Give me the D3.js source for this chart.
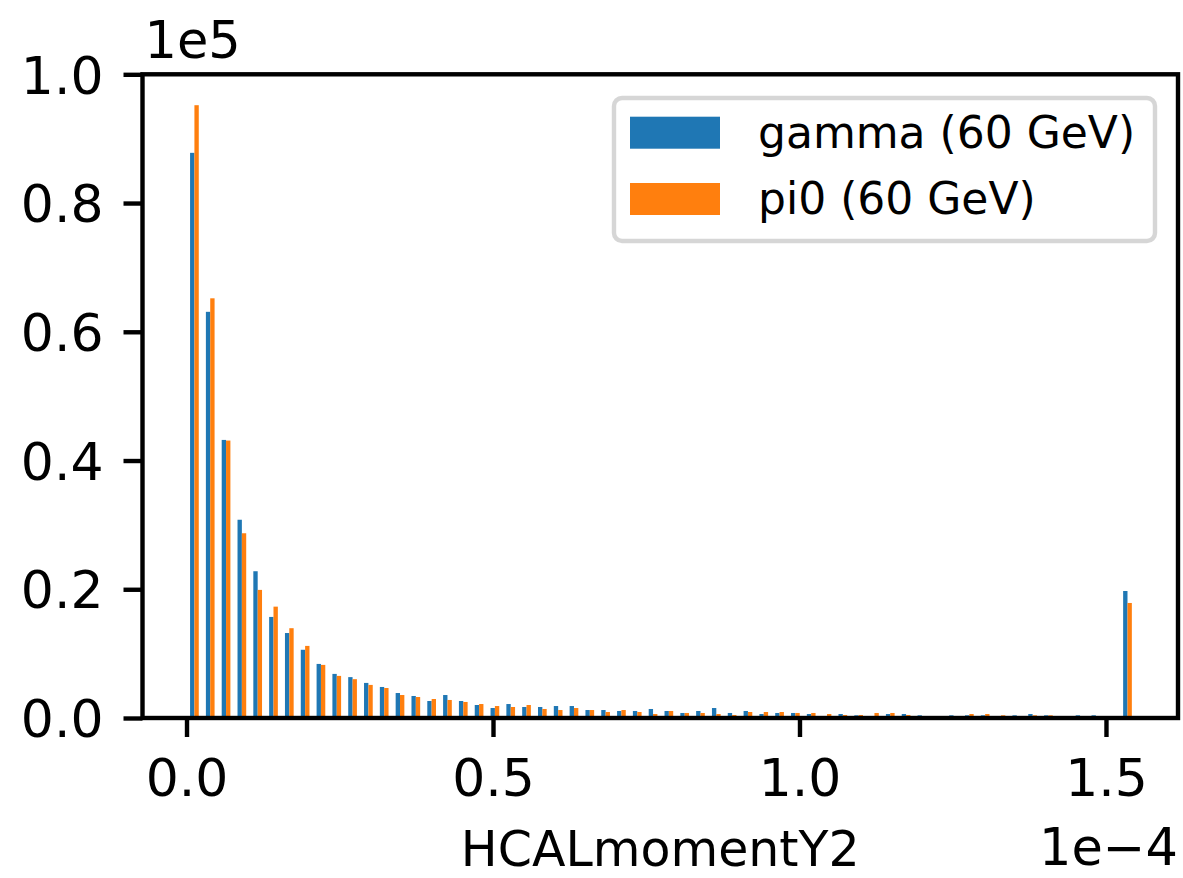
<!DOCTYPE html>
<html>
<head>
<meta charset="utf-8">
<script src="https://cdn.jsdelivr.net/npm/d3@7"></script>
<style>
    body { margin: 0; background: #fff; }
    svg { display: block; font-family: "DejaVu Sans", sans-serif; }
</style>
</head>
<body>
<div id="chart"></div>
<script>
// histogram counts per bin, in units of 1e5 (60 bins from 0 to 1.548e-4)
const binCount = 60;
const xMax = 1.548; // in units of 1e-4

const gammaCounts = [
    0.878, 0.631, 0.432, 0.308, 0.228, 0.157, 0.132, 0.106, 0.084, 0.0685,
    0.0635, 0.0545, 0.0482, 0.0388, 0.0342, 0.0264, 0.0357, 0.0264, 0.0202, 0.0155,
    0.0217, 0.0171, 0.0171, 0.0186, 0.0186, 0.0124, 0.0124, 0.0109, 0.0109, 0.014,
    0.0109, 0.0078, 0.0109, 0.0155, 0.0078, 0.0109, 0.0062, 0.0078, 0.0078, 0.0062,
    0.002, 0.0062, 0.0042, 0.002, 0.0062, 0.0062, 0.0042, 0.002, 0.0042, 0.0042,
    0.0042, 0.002, 0.0042, 0.0062, 0.0042, 0.002, 0.0042, 0.0042, 0.001, 0.1973
];

const pi0Counts = [
    0.952, 0.652, 0.431, 0.287, 0.199, 0.173, 0.1395, 0.112, 0.0825, 0.0654,
    0.0603, 0.0514, 0.0466, 0.0357, 0.0326, 0.0295, 0.028, 0.0249, 0.0217, 0.0186,
    0.0171, 0.0202, 0.014, 0.0124, 0.0155, 0.0124, 0.0093, 0.0124, 0.0093, 0.0062,
    0.0109, 0.0078, 0.0078, 0.0062, 0.0047, 0.0093, 0.0093, 0.0093, 0.0078, 0.0078,
    0.0062, 0.0047, 0.0047, 0.0078, 0.0078, 0.0047, 0.002, 0.002, 0.002, 0.0062,
    0.0062, 0.0042, 0.002, 0.0042, 0.0042, 0.002, 0.002, 0.002, 0.001, 0.1787
];

const seriesNames = ['gamma (60 GeV)', 'pi0 (60 GeV)'];
const seriesColors = ['#1f77b4', '#ff7f0e'];
const xTicks = [0.0, 0.5, 1.0, 1.5];
const yTicks = [0.0, 0.2, 0.4, 0.6, 0.8, 1.0];

class Histogram {
    constructor(parentElement) {
        this.parentElement = parentElement;
        this.initVis();
    }

    initVis() {
        let vis = this;
        vis.width = 1183;
        vis.height = 878;
        vis.left = 142.5;
        vis.right = 1178;
        vis.top = 74.3;
        vis.bottom = 718;

        vis.svg = d3.select('#' + vis.parentElement)
            .append('svg')
            .attr('width', vis.width)
            .attr('height', vis.height);

        vis.x = d3.scaleLinear()
            .domain([-0.0718, 1.6175])
            .range([vis.left, vis.right]);

        vis.y = d3.scaleLinear()
            .domain([0, 1.0])
            .range([vis.bottom, vis.top]);

        vis.wrangleData();
        vis.updateVisualization();
    }

    wrangleData() {
        let vis = this;
        let binWidth = xMax / binCount;
        let rwidth = 0.55;
        let barWidth = rwidth * binWidth / 2;

        vis.bars = [];
        [gammaCounts, pi0Counts].forEach((counts, s) => {
            counts.forEach((c, i) => {
                let center = (i + 0.5) * binWidth;
                vis.bars.push({
                    series: s,
                    x0: center - rwidth * binWidth / 2 + s * barWidth,
                    x1: center - rwidth * binWidth / 2 + (s + 1) * barWidth,
                    value: c
                });
            });
        });
    }

    updateVisualization() {
        let vis = this;

        vis.svg.append('g')
            .selectAll('rect')
            .data(vis.bars)
            .enter().append('rect')
            .attr('x', d => vis.x(d.x0))
            .attr('width', d => vis.x(d.x1) - vis.x(d.x0))
            .attr('y', d => vis.y(d.value))
            .attr('height', d => vis.y(0) - vis.y(d.value))
            .attr('fill', d => seriesColors[d.series]);

        // axes
        let xAxis = d3.axisBottom(vis.x)
            .tickValues(xTicks)
            .tickFormat(d3.format('.1f'))
            .tickSize(19)
            .tickPadding(22);

        let yAxis = d3.axisLeft(vis.y)
            .tickValues(yTicks)
            .tickFormat(d3.format('.1f'))
            .tickSize(19)
            .tickPadding(20);

        let gx = vis.svg.append('g')
            .attr('transform', `translate(0,${vis.bottom})`)
            .call(xAxis);

        let gy = vis.svg.append('g')
            .attr('transform', `translate(${vis.left},0)`)
            .call(yAxis);

        [gx, gy].forEach(g => {
            g.select('.domain').remove();
            g.selectAll('.tick line')
                .attr('stroke', '#000')
                .attr('stroke-width', 4.4);
            g.selectAll('.tick text')
                .attr('fill', '#000')
                .style('font-family', '"DejaVu Sans", sans-serif')
                .style('font-size', '52px');
        });
        gx.selectAll('.tick text').attr('dy', '0.71em');
        gy.selectAll('.tick text').attr('dy', '0.36em');

        // frame
        vis.svg.append('rect')
            .attr('x', vis.left)
            .attr('y', vis.top)
            .attr('width', vis.right - vis.left)
            .attr('height', vis.bottom - vis.top)
            .attr('fill', 'none')
            .attr('stroke', '#000')
            .attr('stroke-width', 4.4)
            .attr('stroke-linejoin', 'miter');

        // offset texts and label
        vis.svg.append('text')
            .attr('x', vis.left + 2)
            .attr('y', 58)
            .style('font-size', '51px')
            .text('1e5');

        vis.svg.append('text')
            .attr('x', vis.right)
            .attr('y', 865)
            .attr('text-anchor', 'end')
            .style('font-size', '51px')
            .text('1e\u22124');

        vis.svg.append('text')
            .attr('x', (vis.left + vis.right) / 2)
            .attr('y', 866)
            .attr('text-anchor', 'middle')
            .style('font-size', '49px')
            .text('HCALmomentY2');

        // legend
        let legend = vis.svg.append('g')
            .attr('class', 'legend');

        legend.append('rect')
            .attr('x', 614)
            .attr('y', 98)
            .attr('width', 541)
            .attr('height', 143)
            .attr('rx', 8)
            .attr('fill', '#fff')
            .attr('fill-opacity', 0.8)
            .attr('stroke', '#cccccc')
            .attr('stroke-opacity', 0.8)
            .attr('stroke-width', 4.4);

        seriesNames.forEach((name, i) => {
            legend.append('rect')
                .attr('x', 630)
                .attr('y', 116.7 + i * 66.3)
                .attr('width', 90)
                .attr('height', 32)
                .attr('fill', seriesColors[i]);

            legend.append('text')
                .attr('x', 758)
                .attr('y', 148 + i * 66.3)
                .style('font-size', '44px')
                .text(name);
        });
    }
}

new Histogram('chart');
</script>
</body>
</html>
